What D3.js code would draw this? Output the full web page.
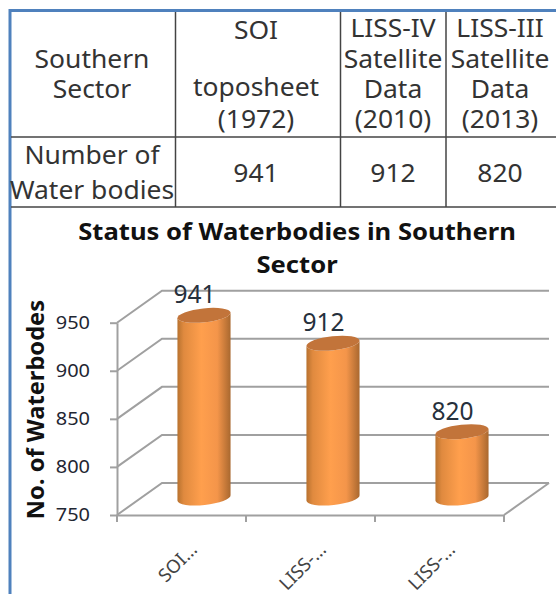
<!DOCTYPE html>
<html lang="en">
<head>
<meta charset="UTF-8">
<title>Status of Waterbodies in Southern Sector</title>
<script src="https://d3js.org/d3.v7.min.js"></script>
<style>
  body { margin: 0; background: #fff; font-family: "Noto Sans", sans-serif; }
  svg { display: block; }
</style>
</head>
<body>
<svg width="556" height="594"></svg>
<script>
// table contents
const headerCells = [
  ["Southern", "Sector"],
  ["SOI", "", "toposheet", "(1972)"],
  ["LISS-IV", "Satellite", "Data", "(2010)"],
  ["LISS-III", "Satellite", "Data", "(2013)"]
];
const rowCells = [["Number of", "Water bodies"], ["941"], ["912"], ["820"]];

// chart data
const categories = ["SOI...", "LISS-...", "LISS-..."];
const values = [941, 912, 820];
const yTicks = [750, 800, 850, 900, 950];

const svg = d3.select("svg");

// ---- table ----
const colLines = [175.5, 340.5, 446];
const colCentres = [92, 256, 393, 500];
const textColor = "#333";

svg.append("line").attr("x1", 10).attr("x2", 556).attr("y1", 10.5).attr("y2", 10.5)
  .attr("stroke", "#4f81bd").attr("stroke-width", 3);
svg.append("line").attr("x1", 10).attr("x2", 10).attr("y1", 9).attr("y2", 594)
  .attr("stroke", "#4f81bd").attr("stroke-width", 3);

[137, 207].forEach(y => {
  svg.append("line").attr("x1", 11).attr("x2", 556).attr("y1", y).attr("y2", y)
    .attr("stroke", "#444").attr("stroke-width", 1.5);
});
colLines.forEach(x => {
  svg.append("line").attr("x1", x).attr("x2", x).attr("y1", 12).attr("y2", 207)
    .attr("stroke", "#444").attr("stroke-width", 1.5);
});

// the source text is a bit wider than the font, so stretch it sideways
function cellText(lines, cx, baselines) {
  lines.forEach((t, i) => {
    svg.append("text")
      .attr("transform", `translate(${cx},${baselines[i]}) scale(1.08,1)`)
      .attr("text-anchor", "middle")
      .attr("font-size", 24.5)
      .attr("fill", textColor)
      .text(t);
  });
}
cellText(headerCells[0], colCentres[0], [68, 98]);
cellText(headerCells[1], colCentres[1], [39, 67, 96, 128]);
cellText(headerCells[2], colCentres[2], [37, 68, 98, 128]);
cellText(headerCells[3], colCentres[3], [37, 68, 98, 128]);
cellText(rowCells[0], colCentres[0], [164, 199]);
[1, 2, 3].forEach(i => cellText(rowCells[i], colCentres[i], [182]));

// ---- chart ----
const depthX = 45, depthY = -32;
const x = d3.scaleBand().domain(d3.range(categories.length)).range([117, 504]);
const y = d3.scaleLinear().domain([750, 950]).range([515, 322.7]);
const gridColor = "#a0a0a0";
const gridWidth = 2;

["Status of Waterbodies in Southern", "Sector"].forEach((t, i) => {
  svg.append("text")
    .attr("transform", `translate(297,${240 + i * 33}) scale(1.09,1)`)
    .attr("text-anchor", "middle").attr("font-size", 23.5).attr("font-weight", "bold")
    .attr("fill", "#111")
    .text(t);
});

// walls: side + back gridlines
const grid = svg.append("g").attr("fill", "none").attr("stroke", gridColor).attr("stroke-width", gridWidth);
yTicks.forEach(t => {
  grid.append("polyline").attr("points", [
    [117, y(t)], [117 + depthX, y(t) + depthY], [504 + depthX, y(t) + depthY]
  ].join(" "));
});
// floor right edge
grid.append("line").attr("x1", 504).attr("y1", y(750)).attr("x2", 504 + depthX).attr("y2", y(750) + depthY);

// axes
const yAxis = svg.append("g")
  .attr("transform", "translate(117,0)")
  .call(d3.axisLeft(y).tickValues(yTicks).tickSize(7).tickPadding(18).tickSizeOuter(0));
yAxis.select(".domain").attr("stroke", gridColor).attr("stroke-width", gridWidth);
yAxis.selectAll(".tick line").attr("stroke", gridColor).attr("stroke-width", gridWidth);
yAxis.selectAll("text")
  .attr("transform", "scale(1.08,1)")
  .attr("font-family", "'Noto Sans', sans-serif").attr("font-size", 18.5).attr("fill", "#1f2733");

const xAxis = svg.append("g")
  .attr("transform", `translate(0,${y(750)})`)
  .call(d3.axisBottom(x).tickValues([]).tickSizeOuter(0));
xAxis.select(".domain").attr("stroke", gridColor).attr("stroke-width", gridWidth);
[0, 1, 2, 3].forEach(i => {
  const px = i < 3 ? x(i) : x.range()[1];
  xAxis.append("line").attr("x1", px).attr("x2", px).attr("y1", 0).attr("y2", 7)
    .attr("stroke", gridColor).attr("stroke-width", gridWidth);
});

categories.forEach((c, i) => {
  const px = x(i) + x.bandwidth() / 2 + 5;
  svg.append("text")
    .attr("transform", `translate(${px},539) rotate(-45)`)
    .attr("text-anchor", "end")
    .attr("font-size", 18.5).attr("fill", "#444")
    .attr("dy", "0.9em")
    .text(c);
});

// cylinders
const defs = svg.append("defs");
const grad = defs.append("linearGradient").attr("id", "cyl").attr("x1", 0).attr("x2", 1).attr("y1", 0).attr("y2", 0);
[[0, "#b8722f"], [0.12, "#e08a3f"], [0.45, "#ff9f4d"], [0.75, "#f4954a"], [1, "#a9682f"]].forEach(s => {
  grad.append("stop").attr("offset", s[0]).attr("stop-color", s[1]);
});

const rx = 26.7, ry = 7, tilt = -6;
const tiltRad = tilt * Math.PI / 180;
const halfX = rx * Math.cos(tiltRad), halfY = rx * Math.sin(tiltRad);

values.forEach((v, i) => {
  const cx = x(i) + x.bandwidth() / 2 + depthX / 2;
  const top = y(v) + depthY / 2;
  const base = y(750) + depthY / 2 - 1;
  const g = svg.append("g");
  g.append("path")
    .attr("d", `M${cx - halfX},${top - halfY} L${cx - halfX},${base - halfY}`
      + ` A${rx},${ry} ${tilt} 0 0 ${cx + halfX},${base + halfY}`
      + ` L${cx + halfX},${top + halfY}`
      + ` A${rx},${ry} ${tilt} 0 1 ${cx - halfX},${top - halfY} Z`)
    .attr("fill", "url(#cyl)");
  g.append("ellipse")
    .attr("transform", `translate(${cx},${top}) rotate(${tilt})`)
    .attr("rx", rx).attr("ry", ry)
    .attr("fill", "#c2743a");
  svg.append("text")
    .attr("x", cx - 9.5).attr("y", top - 12)
    .attr("text-anchor", "middle")
    .attr("font-size", 24.5).attr("fill", "#26303c")
    .text(v);
});

// y axis title
svg.append("text")
  .attr("transform", "translate(44,409.5) rotate(-90) scale(1.03,1)")
  .attr("text-anchor", "middle")
  .attr("font-size", 23).attr("font-weight", "bold").attr("fill", "#111")
  .text("No. of Waterbodes");
</script>
</body>
</html>
